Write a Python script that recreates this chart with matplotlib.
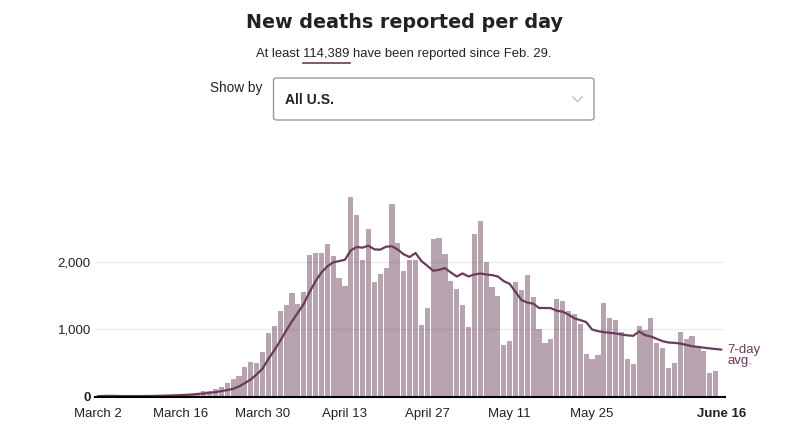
import numpy as np
import pandas as pd
import matplotlib
matplotlib.use('Agg')
import matplotlib.pyplot as plt
from matplotlib.patches import FancyBboxPatch
from matplotlib.lines import Line2D

plt.rcParams['font.family'] = ['Liberation Sans', 'DejaVu Sans']

# daily deaths, one bar per day from March 2
deaths = [2, 4, 5, 4, 3, 3, 4, 5, 6, 8, 10, 13, 16, 20, 25, 32,
          40, 59, 84, 89, 109, 138, 203, 257, 312, 443, 516, 494, 668, 940,
          1049, 1276, 1360, 1538, 1385, 1553, 2112, 2147, 2137, 2280, 2102,
          1766, 1652, 2970, 2705, 2030, 2500, 1710, 1825, 1915, 2872, 2290,
          1870, 2035, 2040, 1073, 1316, 2350, 2360, 2120, 1718, 1607, 1365,
          1038, 2428, 2612, 2005, 1637, 1498, 773, 823, 1706, 1590, 1805,
          1484, 1009, 799, 863, 1452, 1425, 1281, 1229, 1085, 635, 564, 620,
          1400, 1172, 1135, 961, 560, 490, 1053, 993, 1167, 803, 727, 425,
          500, 959, 853, 900, 752, 675, 346, 386]

# 7-day average as drawn, March 2 to June 16
avg7 = [5, 8, 10, 9, 7, 6, 6, 6, 7, 8, 10, 12, 14, 17, 20, 25, 30, 38, 45,
        55, 65, 80, 95, 115, 150, 200, 255, 330, 415, 560, 690, 830, 980,
        1120, 1250, 1380, 1560, 1720, 1850, 1940, 2000, 2020, 2040, 2180,
        2230, 2220, 2250, 2195, 2190, 2235, 2240, 2190, 2120, 2080, 2140,
        2020, 1950, 1875, 1890, 1915, 1850, 1790, 1835, 1790, 1820, 1835,
        1820, 1810, 1790, 1720, 1680, 1560, 1440, 1400, 1385, 1320, 1320,
        1318, 1280, 1265, 1220, 1165, 1140, 1110, 1000, 975, 960, 950, 940,
        925, 912, 905, 970, 915, 895, 860, 825, 805, 800, 790, 770, 750,
        740, 728, 718, 708, 700]

start = pd.Timestamp('2020-03-02')
dates = pd.date_range(start, periods=len(avg7), freq='D')
tick_dates = pd.to_datetime(['2020-03-02', '2020-03-16', '2020-03-30', '2020-04-13',
                             '2020-04-27', '2020-05-11', '2020-05-25', '2020-06-16'])
tick_labels = ['March 2', 'March 16', 'March 30', 'April 13',
               'April 27', 'May 11', 'May 25', 'June 16']
yticks = [0, 1000, 2000]
ytick_labels = ['0', '1,000', '2,000']

BAR = '#b8a4af'
LINE = '#6b3a5c'
TXT = '#222222'

W, H = 786, 433
fig = plt.figure(figsize=(W / 100, H / 100), dpi=100)

ax = fig.add_axes([95 / W, 36.5 / H, 630 / W, 206.5 / H])
ax.bar(dates[:len(deaths)], deaths, width=0.88, color=BAR, linewidth=0, zorder=1)
ax.plot(dates, avg7, color=LINE, lw=1.6, zorder=3, solid_capstyle='round')

ax.set_xlim(start - pd.Timedelta(days=0.48), start + pd.Timedelta(days=106.6))
ax.set_ylim(0, 3080)
ax.set_yticks(yticks)
ax.set_yticklabels(ytick_labels)
ax.set_xticks(tick_dates)
ax.set_xticklabels(tick_labels)
ax.tick_params(length=0, labelsize=9.5, labelcolor=TXT)
ax.tick_params(axis='y', pad=3)
ax.tick_params(axis='x', pad=8)
ax.get_yticklabels()[0].set_fontweight('bold')
ax.get_xticklabels()[-1].set_fontweight('bold')

ax.set_axisbelow(False)
ax.grid(axis='y', color='black', alpha=0.07, lw=1, zorder=2)
ax.grid(axis='x', visible=False)
for side in ['top', 'right', 'left']:
    ax.spines[side].set_visible(False)
ax.spines['bottom'].set_linewidth(1.5)
ax.spines['bottom'].set_color('black')
ax.spines['bottom'].set_zorder(4)

ax.text(1.004, (avg7[-1] + 80) / 3080, '7-day\navg.', transform=ax.transAxes,
        color=LINE, fontsize=9.5, va='top', ha='left', linespacing=0.9)

# header
fig.text(404 / W, 1 - 22 / H, 'New deaths reported per day', ha='center', va='center',
         fontsize=13.8, fontweight='bold', color=TXT, family='DejaVu Sans')

sub = 'At least 114,389 have been reported since Feb. 29.'
sub_fs = 9.4
st = fig.text(404 / W, 1 - 54 / H, sub, ha='center', va='center', fontsize=sub_fs, color=TXT)
fig.canvas.draw()
r = fig.canvas.get_renderer()
full = st.get_window_extent(r)
pre = fig.text(0, 0, 'At least ', fontsize=sub_fs)
num = fig.text(0, 0, 'At least 114,389', fontsize=sub_fs)
w_pre = pre.get_window_extent(r).width
w_num = num.get_window_extent(r).width
pre.remove()
num.remove()
x0 = full.x0 + w_pre
x1 = full.x0 + w_num
fig.add_artist(Line2D([x0 / W, x1 / W], [1 - 62.5 / H, 1 - 62.5 / H], color=LINE, lw=1.2))

fig.text(210 / W, 1 - 88 / H, 'Show by', ha='left', va='center', fontsize=9.8, color=TXT)
box = FancyBboxPatch((273.5 / W, 1 - 120 / H), 320.5 / W, 42 / H,
                     boxstyle='round,pad=0,rounding_size=0.005',
                     transform=fig.transFigure, facecolor='white',
                     edgecolor='#9a9a9a', lw=1)
fig.add_artist(box)
fig.text(285 / W, 1 - 100 / H, 'All U.S.', ha='left', va='center', fontsize=10,
         fontweight='bold', color=TXT)
fig.add_artist(Line2D([573 / W, 577.5 / W, 582 / W],
                      [1 - 97 / H, 1 - 101.5 / H, 1 - 97 / H],
                      color='#c4c4c4', lw=1.1))

fig.savefig('out.png', dpi=100)
plt.close(fig)
